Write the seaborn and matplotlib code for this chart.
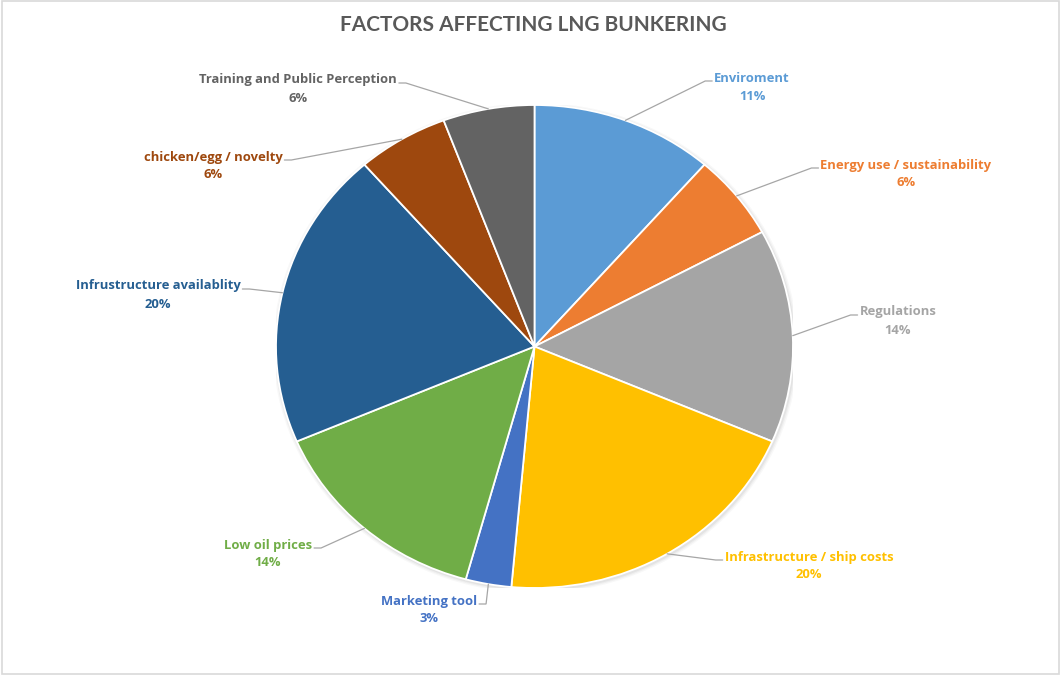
import numpy as np
import matplotlib
matplotlib.use("Agg")
import matplotlib.pyplot as plt
import seaborn as sns
from matplotlib.patches import Ellipse, Rectangle

# Survey responses per factor (share of total shown as percentage)
factors = [
    "Enviroment",
    "Energy use / sustainability",
    "Regulations",
    "Infrastructure / ship costs",
    "Marketing tool",
    "Low oil prices",
    "Infrustructure availablity",
    "chicken/egg / novelty",
    "Training and Public Perception",
]
responses = [4, 2, 5, 7, 1, 5, 7, 2, 2]
slice_colors = ["#5B9BD5", "#ED7D31", "#A5A5A5", "#FFC000", "#4472C4",
                "#70AD47", "#255E91", "#9E480E", "#636363"]
title_text = "FACTORS AFFECTING LNG BUNKERING"

# label anchor (centre x, y of the name line) in pixel coordinates, y down
label_pos = [(752, 78), (906, 165), (898, 312), (809, 557), (429, 601),
             (268, 545), (158, 286), (213, 157), (298, 80)]

sns.set_theme(style="white")
plt.rcParams["font.family"] = ["Open Sans", "DejaVu Sans"]
palette = sns.color_palette(slice_colors)

W, H = 1061, 676
fig = plt.figure(figsize=(W / 100, H / 100), dpi=100)
fig.patch.set_facecolor("white")

# pie bounding box (pixels, y down)
cx, cy, rx, ry = 534.5, 346.5, 258.5, 241.5
ax_pie = fig.add_axes([(cx - rx) / W, (H - cy - ry) / H, 2 * rx / W, 2 * ry / H])

# soft drop shadow behind the pie
for grow, alpha in [(0.030, 0.05), (0.020, 0.07), (0.010, 0.10)]:
    ax_pie.add_patch(Ellipse((0.004, -0.006), 2 + grow, 2 + grow,
                             facecolor="#7f7f7f", edgecolor="none",
                             alpha=alpha, zorder=0))

wedges, _ = ax_pie.pie(responses, colors=palette, startangle=90,
                       counterclock=False,
                       wedgeprops=dict(edgecolor="white", linewidth=1.3))
ax_pie.set_aspect("auto")
ax_pie.set_xlim(-1, 1)
ax_pie.set_ylim(-1, 1)
ax_pie.axis("off")

# overlay in pixel coordinates for title, labels and leader lines
ax = fig.add_axes([0, 0, 1, 1], zorder=3)
ax.set_xlim(0, W)
ax.set_ylim(H, 0)
ax.axis("off")

ax.text(533, 25, title_text, ha="center", va="center", fontsize=15,
        fontweight="bold", color="#595959", family=["Lato", "DejaVu Sans"])

total = sum(responses)
renderer = fig.canvas.get_renderer()
inv = ax.transData.inverted()
for name, val, wedge, color, (lx, ly) in zip(factors, responses, wedges,
                                             slice_colors, label_pos):
    pct = f"{round(val / total * 100)}%"
    t = ax.text(lx, ly, name, ha="center", va="center", fontsize=9.4,
                fontweight="bold", color=color)
    ax.text(lx, ly + 18, pct, ha="center", va="center", fontsize=9.4,
            fontweight="bold", color=color)
    mid = np.deg2rad((wedge.theta1 + wedge.theta2) / 2)
    ex = cx + rx * np.cos(mid)
    ey = cy - ry * np.sin(mid)
    bb = t.get_window_extent(renderer=renderer)
    (x0, _), (x1, _) = inv.transform([(bb.x0, bb.y0), (bb.x1, bb.y1)])
    sy = ly + 3
    if lx > ex:
        sx0, sx1 = x0 - 2, x0 - 9
    else:
        sx0, sx1 = x1 + 2, x1 + 9
    ax.plot([sx0, sx1, ex], [sy, sy, ey], color="#A6A6A6", lw=0.9,
            solid_joinstyle="miter")

# chart border
ax.add_patch(Rectangle((2, 1), 1057, 673, fill=False, edgecolor="#D9D9D9",
                       lw=1.2))

fig.savefig("out.png", dpi=100)
